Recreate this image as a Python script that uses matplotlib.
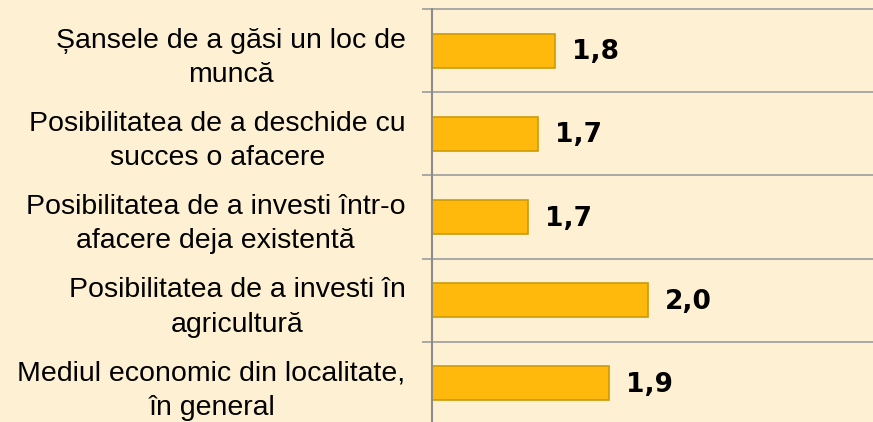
import matplotlib
matplotlib.use("Agg")
import matplotlib.pyplot as plt
import numpy as np

# data, top to bottom
categories = [
    "Șansele de a găsi un loc de\nmuncă",
    "Posibilitatea de a deschide cu\nsucces o afacere",
    "Posibilitatea de a investi într-o\nafacere deja existentă",
    "Posibilitatea de a investi în\nagricultură",
    "Mediul economic din localitate,\nîn general",
]
values = [1.785, 1.745, 1.722, 2.0, 1.91]

BG = "#FEF0D2"
BAR = "#FFB80C"
EDGE = "#CC9A06"
GRID = "#A3A3A3"

plt.rcParams["font.family"] = ["Liberation Sans", "DejaVu Sans"]

fig = plt.figure(figsize=(8.73, 4.22), dpi=100, facecolor=BG)
ax = fig.add_axes([432 / 873, -3 / 422, 445 / 873, 416 / 422])
ax.set_facecolor(BG)

y = np.arange(len(categories))
ax.barh(y, values, height=0.41, color=BAR, edgecolor=EDGE, linewidth=1.2, zorder=3)

ax.set_xlim(1.5, 2.53)
ax.set_ylim(len(categories) - 0.5, -0.5)

for yi, v in zip(y, values):
    ax.text(v + 0.04, yi + 0.02, f"{v:.1f}".replace(".", ","), va="center", ha="left",
            fontsize=19, fontweight="bold", family="DejaVu Sans", color="black", zorder=4)

ax.set_yticks(y)
ax.set_yticklabels(categories, fontsize=20.5, ha="right", multialignment="center",
                   linespacing=1.42)
ax.tick_params(axis="y", which="major", length=0, pad=19)
ax.set_yticks(np.arange(len(categories) + 1) - 0.5, minor=True)
ax.tick_params(axis="y", which="minor", length=7, width=1.3, color=GRID, direction="out")
for b in np.arange(len(categories) + 1) - 0.5:
    ax.axhline(b, color=GRID, linewidth=1.3, zorder=1, clip_on=False)
ax.set_xticks([])

for s in ["top", "right", "bottom"]:
    ax.spines[s].set_visible(False)
ax.spines["left"].set_color("#8C8C8C")
ax.spines["left"].set_linewidth(1.5)
ax.spines["left"].set_zorder(5)

fig.savefig("out.png", dpi=100, facecolor=BG)
